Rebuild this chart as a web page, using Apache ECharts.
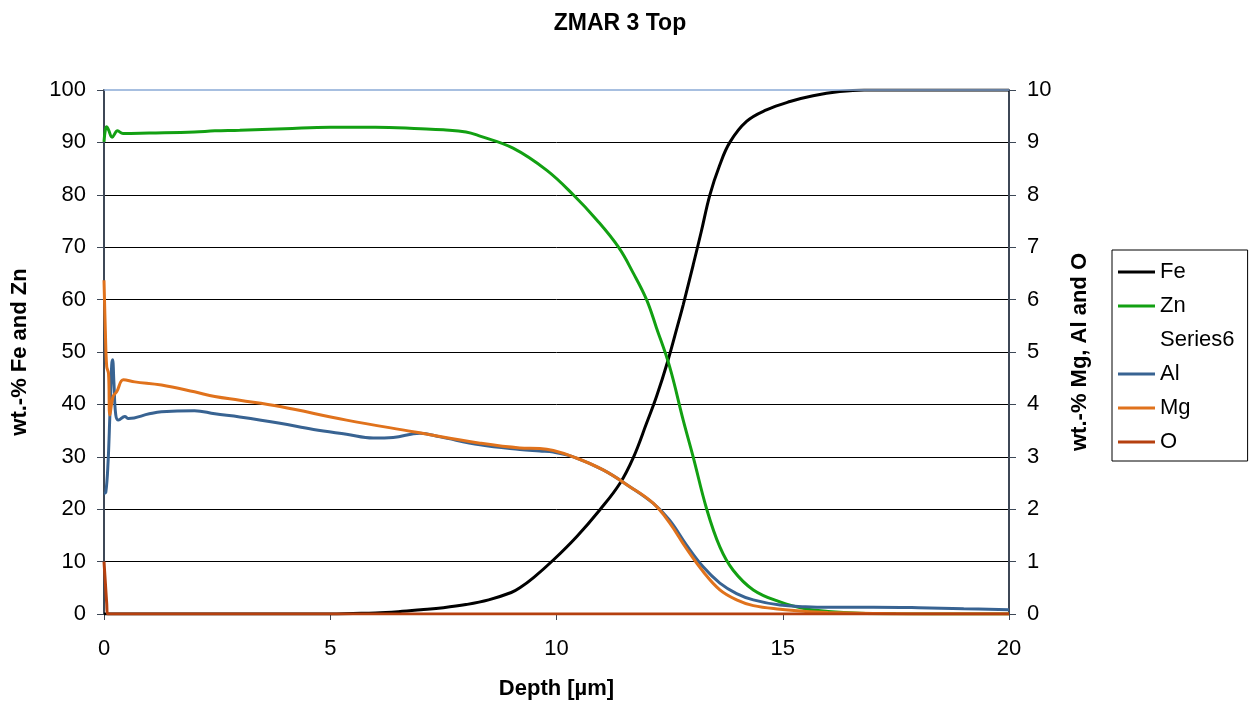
<!DOCTYPE html>
<html>
<head>
<meta charset="utf-8">
<script src="https://cdn.jsdelivr.net/npm/echarts@6/dist/echarts.min.js"></script>
<style>html,body{margin:0;padding:0;background:#fff}#c{width:1258px;height:708px}</style>
</head>
<body>
<div id="c"></div>
<script>
// Depth [µm], wt.-% values
var feData = [[0,0],[5,0],[5.5,0.1],[6,0.2],[6.5,0.45],[7,0.8],[7.5,1.2],[8,1.8],[8.5,2.7],[9,4.1],[9.19,5.0],[9.5,7.0],[9.93,10.3],[10.45,14.8],[10.96,19.9],[11.4,24.9],[11.7,29.9],[11.99,36.4],[12.21,41.5],[12.45,48],[12.7,55.8],[12.8,59],[13.02,66.6],[13.2,73],[13.39,80],[13.6,85.5],[13.83,90],[14.2,94],[14.64,96.2],[15.16,97.8],[15.67,98.9],[16.26,99.7],[16.8,100],[20,100]];
var znData = [[0,90.1],[0.03,92.4],[0.06,93.0],[0.1,92.4],[0.18,91.0],[0.3,92.2],[0.42,91.7],[1,91.8],[2,92.0],[2.45,92.2],[3,92.3],[4,92.6],[5,92.9],[6,92.9],[7,92.6],[7.5,92.4],[8,92.0],[8.31,91.2],[9.04,88.9],[9.78,84.7],[10.37,80],[10.89,75.2],[11.37,70],[11.7,65],[11.99,60],[12.21,54.6],[12.5,47.2],[12.8,37],[13.02,30],[13.32,20],[13.61,12.8],[13.9,8.4],[14.35,4.6],[14.94,2.3],[15.5,1.0],[16,0.5],[16.7,0.15],[17.5,0.05],[20,0]];
var alData = [[0,2.3],[0.04,2.32],[0.09,2.9],[0.13,3.8],[0.17,4.75],[0.19,4.85],[0.22,4.4],[0.26,3.8],[0.32,3.7],[0.46,3.77],[0.54,3.73],[1,3.82],[1.27,3.86],[2,3.88],[2.45,3.82],[3,3.76],[3.89,3.64],[4.63,3.52],[5.36,3.43],[5.95,3.36],[6.39,3.37],[6.98,3.45],[7.43,3.38],[8.31,3.23],[9.19,3.14],[9.63,3.11],[9.93,3.09],[10.37,3.0],[11.03,2.75],[11.62,2.43],[12.14,2.11],[12.5,1.79],[12.87,1.32],[13.24,0.9],[13.61,0.59],[13.98,0.39],[14.35,0.27],[14.94,0.17],[15.5,0.14],[16,0.13],[17,0.13],[18,0.12],[19,0.1],[20,0.08]];
var mgData = [[0,6.37],[0.03,5.4],[0.06,4.72],[0.1,4.59],[0.13,3.8],[0.2,4.15],[0.28,4.24],[0.43,4.47],[0.68,4.43],[1.27,4.37],[2,4.24],[2.45,4.15],[3,4.08],[3.89,3.96],[5.36,3.7],[6.83,3.48],[8.31,3.26],[9.19,3.17],[9.63,3.16],[9.93,3.12],[10.37,3.0],[11.03,2.75],[11.62,2.43],[12.14,2.11],[12.5,1.74],[12.87,1.25],[13.24,0.81],[13.61,0.46],[13.98,0.27],[14.35,0.16],[14.94,0.09],[15.5,0.05],[16,0.03],[17,0.01],[18,0],[20,0]];
var oData = [[0,1.0],[0.03,0.6],[0.06,0.2],[0.08,0],[20,0]];
var leftTicks = [0,10,20,30,40,50,60,70,80,90,100];
var rightTicks = [0,1,2,3,4,5,6,7,8,9,10];
var xTicks = [0,5,10,15,20];

var FONT = 'Liberation Sans, Arial, sans-serif';
var AX = '#3d4756';
var LBL = 22, NAME = 22;
var chart = echarts.init(document.getElementById('c'), null, {renderer: 'canvas'});
function lineSeries(name, data, color, yIdx) {
  return {
    name: name, type: 'line', data: data, yAxisIndex: yIdx,
    symbol: 'none', showSymbol: false, smooth: 0.4,
    lineStyle: {color: color, width: 3}, itemStyle: {color: color},
    z: 3, animation: false
  };
}
chart.setOption({
  backgroundColor: '#fff',
  animation: false,
  title: {
    text: 'ZMAR 3 Top', left: 620, top: 12, textAlign: 'center', padding: 0,
    textStyle: {fontFamily: FONT, fontSize: 23, fontWeight: 'bold', color: '#000'}
  },
  grid: {left: 104, right: 249, top: 90, bottom: 94, containLabel: false, outerBoundsMode: 'none'},
  legend: {
    orient: 'vertical', left: 1112, top: 250,
    borderColor: '#000', borderWidth: 1,
    padding: [11, 13, 8, 6],
    icon: 'rect',
    itemWidth: 37, itemHeight: 3, itemGap: 12,
    textStyle: {fontFamily: FONT, fontSize: LBL, color: '#000'},
    data: ['Fe', 'Zn', 'Series6', 'Al', 'Mg', 'O']
  },
  xAxis: {
    type: 'value', min: xTicks[0], max: xTicks[xTicks.length - 1], interval: 5,
    name: 'Depth [µm]', nameLocation: 'middle', nameGap: 64,
    nameTextStyle: {fontFamily: FONT, fontSize: NAME, fontWeight: 'bold', color: '#000'},
    axisLine: {show: true, onZero: false, lineStyle: {color: AX, width: 1.5}},
    axisTick: {show: true, inside: false, length: 6, lineStyle: {color: AX}},
    axisLabel: {margin: 24, fontFamily: FONT, fontSize: LBL, color: '#000'},
    splitLine: {show: false}
  },
  yAxis: [{
    type: 'value', position: 'left', min: leftTicks[0], max: leftTicks[leftTicks.length - 1], interval: 10,
    name: 'wt.-% Fe and Zn', nameLocation: 'middle', nameGap: 73, nameRotate: 90,
    nameTextStyle: {fontFamily: FONT, fontSize: NAME, fontWeight: 'bold', color: '#000'},
    axisLine: {show: true, onZero: false, lineStyle: {color: AX, width: 2}},
    axisTick: {show: true, inside: false, length: 7, lineStyle: {color: AX}},
    axisLabel: {margin: 18, fontFamily: FONT, fontSize: LBL, color: '#000'},
    splitLine: {show: true, showMaxLine: false, lineStyle: {color: '#000', width: 1}}
  }, {
    type: 'value', position: 'right', min: rightTicks[0], max: rightTicks[rightTicks.length - 1], interval: 1,
    name: 'wt.-% Mg, Al and O', nameLocation: 'middle', nameGap: 60, nameRotate: 90,
    nameTextStyle: {fontFamily: FONT, fontSize: NAME, fontWeight: 'bold', color: '#000'},
    axisLine: {show: true, onZero: false, lineStyle: {color: AX, width: 2}},
    axisTick: {show: true, inside: false, length: 7, lineStyle: {color: AX}},
    axisLabel: {margin: 18, fontFamily: FONT, fontSize: LBL, color: '#000'},
    splitLine: {show: false}
  }],
  series: [
    lineSeries('Fe', feData, '#000000', 0),
    lineSeries('Zn', znData, '#12a012', 0),
    {
      name: 'Series6', type: 'line', data: [], yAxisIndex: 0, symbol: 'none',
      lineStyle: {color: 'rgba(0,0,0,0)', width: 0}, itemStyle: {color: 'rgba(0,0,0,0)'},
      z: 4,
      markLine: {
        silent: true, symbol: 'none', label: {show: false}, animation: false,
        lineStyle: {color: '#8aaad6', width: 1.5, type: 'solid'},
        data: [{yAxis: 100}]
      }
    },
    lineSeries('Al', alData, '#386392', 1),
    lineSeries('Mg', mgData, '#e0721c', 1),
    lineSeries('O', oData, '#b5400f', 1)
  ]
});
</script>
</body>
</html>
